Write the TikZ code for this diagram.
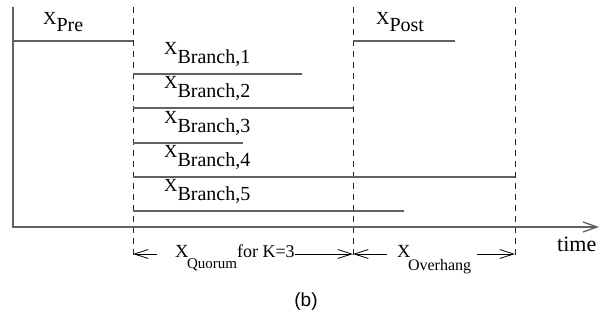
\documentclass[tikz,border=0pt]{standalone}
\usepackage{fontspec}
\setmainfont{Liberation Serif}
\newfontfamily\capfont{Liberation Sans}
\usetikzlibrary{arrows.meta}

\tikzset{
  trace/.style = {line width=1.3pt, black!62},
  guide/.style = {dash pattern=on 6pt off 5pt, line width=0.8pt, black!85},
  dim/.style = {line width=0.8pt, -{Straight Barb[length=14pt,width=9pt]}},
  lbl/.style = {inner sep=0pt, anchor=base west}
}

% X with a lowered name after it
\newcommand{\xlab}[3][9pt]{{\fontsize{18.5}{18.5}\selectfont X}\raisebox{-#1}{\fontsize{#2}{#2}\selectfont #3}}

\begin{document}
\begin{tikzpicture}[x=1pt, y=-1pt]
\useasboundingbox (0,0) rectangle (614,320);

% phase boundaries
\foreach \x in {133, 353, 515}
   \draw[guide] (\x,7) -- (\x,258);

% value axis and time axis
\draw[trace, -{Straight Barb[length=14pt,width=10pt]}] (13,7) |- (599,227);
\node[lbl] (time) at (557,252) {\fontsize{22}{22}\selectfont time};

% before and after the branches
\draw[trace] (13,41) -- (133,41);
\node[lbl] (pre) at (43,25) {\xlab[7pt]{20}{Pre}};
\draw[trace] (353,41) -- (455,41);
\node[lbl] (post) at (376,25) {\xlab[7pt]{20}{Post}};

% the five branches
\foreach \i/\y/\e in {1/74/302, 2/108/353, 3/143/243, 4/177/515, 5/211/404}{
   \draw[trace] (133,\y) -- (\e,\y);
   \node[lbl] (br\i) at (164,\y-19) {\xlab{20}{Branch,\i}};
   }

% spans under the axis
\node[lbl] (quorum) at (175,258)
   {\xlab[11pt]{15}{\hspace{-1.5pt}Quorum}\fontsize{18}{18}\selectfont for K=3};
\node[lbl] (overhang) at (397,258) {\xlab[13pt]{16}{\hspace{-2.5pt}Overhang}};
\coordinate (q0) at (133,254);
\coordinate (q1) at (157,254);
\coordinate (o0) at (353,254);
\coordinate (o1) at (387,254);
\coordinate (o2) at (477,254);
\coordinate (o3) at (515,254);
\draw[dim] (q1) -- (q0);
\draw[dim] (quorum.east |- q0) -- (o0);
\draw[dim] (o1) -- (o0);
\draw[dim] (o2) -- (o3);

\node (cap) at (306,302) {\capfont\fontsize{19}{19}\selectfont (b)};
\end{tikzpicture}
\end{document}
